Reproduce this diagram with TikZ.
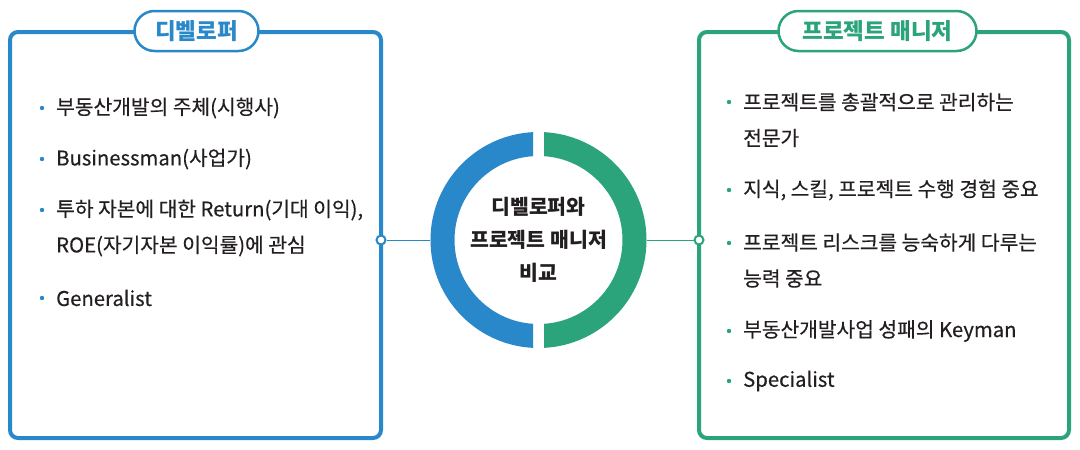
\documentclass[tikz,border=0pt]{standalone}
\usepackage{fontspec}
\setmainfont{Noto Sans CJK KR}
\newfontfamily\itemfont[FakeBold=0.4]{Noto Sans CJK KR}
\usetikzlibrary{positioning}
\definecolor{devblue}{RGB}{41,136,202}
\definecolor{pmgreen}{RGB}{43,163,123}
\definecolor{ink}{RGB}{35,31,32}

\tikzset{
  box/.style={draw=#1, rounded corners=8pt, line width=4pt, minimum height=406pt, inner sep=0pt},
  pill/.style={draw=#1, text=#1, fill=white, rounded corners=20pt, line width=2.5pt, minimum height=40pt, inner sep=0pt, font=\fontsize{22.5}{26}\selectfont\bfseries},
  item/.style={anchor=west, inner sep=0pt, text=ink, align=left, font=\fontsize{20.3}{36}\itemfont},
  dot/.style={circle, draw=#1, fill=white, line width=2pt, minimum size=9pt, inner sep=0pt},
}

\begin{document}
\begin{tikzpicture}[x=1pt, y=-1pt]
        \useasboundingbox (0,0) rectangle (1080,450);
        % boxes
        \node[box=devblue, minimum width=371pt] (dev) at (195.5,235) {};
        \node[box=pmgreen, minimum width=370pt] (pm) at (884,235) {};
        \node[pill=devblue, minimum width=124pt] (devtitle) at (196.5,31) {디벨로퍼};
        \node[pill=pmgreen, minimum width=198pt] (pmtitle) at (877.5,31) {프로젝트 매니저};
        % ring
        \begin{scope}
          \clip (0,0) rectangle (533,450);
          \draw[devblue, line width=24pt] (538.5,240) circle (96pt);
        \end{scope}
        \begin{scope}
          \clip (544,0) rectangle (1080,450);
          \draw[pmgreen, line width=24pt] (538.5,240) circle (96pt);
        \end{scope}
        \node[circle, minimum size=216pt, inner sep=0pt, align=center, text=ink,
              font=\fontsize{20.5}{33}\selectfont\bfseries] (ring) at (538.5,240)
              {디벨로퍼와\\프로젝트 매니저\\비교};
        % connectors
        \node[dot=devblue] (devdot) at (381,240) {};
        \node[dot=pmgreen] (pmdot) at (699,240) {};
        \draw[devblue, line width=1pt] (devdot) -- (ring);
        \draw[pmgreen, line width=1pt] (pmdot) -- (ring);
        % developer items
        \node[item] (d1) at (56,108) {부동산개발의 주체(시행사)};
        \node[item] (d2) at (56,159) {Businessman(사업가)};
        \node[item] (d3) at (56,228) {투하 자본에 대한 Return(기대 이익),\\ROE(자기자본 이익률)에 관심};
        \node[item] (d4) at (56,298) {Generalist};
        \foreach \y in {108,159,210,298}
          \fill[devblue] (42,\y) circle (2.2pt);
        % project manager items
        \node[item] (p1) at (743,120) {프로젝트를 총괄적으로 관리하는\\전문가};
        \node[item] (p2) at (743,190) {지식, 스킬, 프로젝트 수행 경험 중요};
        \node[item] (p3) at (743,260.5) {프로젝트 리스크를 능숙하게 다루는\\능력 중요};
        \node[item] (p4) at (743,331) {부동산개발사업 성패의 Keyman};
        \node[item] (p5) at (743,381) {Specialist};
        \foreach \y in {102,190,243,331,381}
          \fill[pmgreen] (729,\y) circle (2.2pt);
\end{tikzpicture}
\end{document}
